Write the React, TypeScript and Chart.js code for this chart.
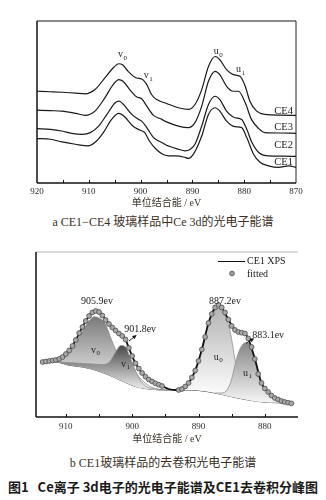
import React, { useEffect, useRef } from 'react';
import { Chart, registerables } from 'chart.js';

Chart.register(...registerables);

type Pt = [number, number];

// ---------- Panel a: Ce 3d spectra of CE1–CE4 (binding energy eV, intensity a.u.) ----------
const CE4: Pt[] = [[920,92.3],[917.5,91.8],[915.2,91.3],[912.5,90.5],[910.7,89.7],[908.8,94],[906.9,105.7],[905.3,115.7],[904.2,120],[903.5,119],[902.4,112.3],[900.8,105.7],[899.8,104.7],[898.8,99],[897.9,89],[896.9,84],[895,80],[892.7,75.7],[890.8,74],[889.5,79],[888.2,94],[886.9,117.3],[885.6,127.3],[884.7,124],[883.4,114],[882.1,109],[880.8,107.3],[879.8,97.3],[878.9,82.3],[877.6,72.3],[876,69],[873,68.3],[870,68]];
const CE3: Pt[] = [[920,73.3],[917.5,72.8],[915.2,72.3],[912.5,70],[910.7,68],[908.8,72.3],[906.9,85.7],[905.3,99],[904.2,104],[903.4,102.3],[902.1,94],[900.8,86.7],[899.8,84.7],[898.8,77.3],[897.5,68],[895.9,64],[895,61.5],[892.7,57.3],[890.8,55.7],[889.5,60.7],[888.2,77.3],[886.9,102.3],[885.6,112.3],[884.7,109],[883.4,97.3],[882.1,92.3],[881.1,92.3],[879.8,80.7],[878.6,64],[877.2,54.7],[876,50.7],[873,50.3],[870,50]];
const CE2: Pt[] = [[920,54.7],[917.4,54],[915.2,52.3],[913.3,50],[911.3,49],[909.7,50.7],[908.1,57.3],[906.5,69],[904.9,80.7],[904.1,82.3],[903.3,79],[901.7,69],[900.4,64],[899.8,62.3],[898.8,55.7],[897.5,45.7],[895.9,40.7],[895.1,38.3],[892.7,34],[891.4,32.3],[890.4,34],[889.5,39],[888.2,57.3],[886.9,79],[885.6,87.3],[884.7,84],[883.4,72.3],[881.8,65.7],[880.5,64],[879.5,54],[878.5,40.7],[877.2,30.7],[875.3,27.3],[872.5,27],[870,26.7]];
const CE1: Pt[] = [[920,44.7],[917.4,44],[915.2,41.3],[912.6,39],[910.1,37.3],[908.5,42.3],[907.2,50.7],[905.6,64],[904.2,70],[903.1,66.7],[901.5,57.3],[900.2,53.3],[899.2,50.7],[898.3,42.3],[897,34],[895.7,29],[894.6,27.3],[893.2,27.3],[891.4,25.7],[890.8,24.7],[889.8,29],[888.2,47.3],[886.9,69],[885.6,75.7],[884.7,72.3],[883.4,62.3],[881.8,56.7],[880.5,55.7],[879.5,45.7],[878.2,29],[876.9,20.7],[875.3,17.3],[873.4,15.7],[871.4,17.3],[870,15.7]];
const A_SERIES = [CE4, CE3, CE2, CE1];
const A_NAMES = ['CE4', 'CE3', 'CE2', 'CE1'];
const A_NAME_Y = [72, 56.5, 38, 21];
const A_TICKS = [920, 915, 910, 905, 900, 895, 890, 885, 880, 875, 870];
const A_TICK_LABELS = [920, 910, 900, 890, 880, 870];
const A_PEAKS = [
  { base: 'v', sub: '0', ev: 903.6, y: 129 },
  { base: 'v', sub: '1', ev: 898.6, y: 108 },
  { base: 'u', sub: '0', ev: 885.1, y: 132 },
  { base: 'u', sub: '1', ev: 880.8, y: 114 },
];

// ---------- Panel b: deconvolution of CE1 ----------
const ENVELOPE: Pt[] = [[913.5,55],[912,56.5],[910.5,60],[909.5,66.5],[908.5,77],[907.5,90],[906.5,101],[905.7,106],[905,105],[904.5,101.5],[903.5,93],[902.5,86.5],[901.5,81],[901,77.5],[900.5,69],[899.5,53.7],[898.5,44],[897.5,37.5],[896.5,33.7],[895.5,31],[894.5,28],[893.5,27],[892.5,28],[891.5,34],[890.5,46.5],[889.5,67.5],[888.5,94],[887.8,106],[887.1,112],[886.5,109.5],[885.5,97.5],[884.5,87],[883.5,84.3],[883,83.5],[882.5,78.5],[881.5,58],[880.5,34],[879.5,25],[878.5,19],[877.5,16],[876,13.7]];
const FITTED: Pt[] = [[913.5,55],[913,55.5],[912.5,56],[912,56.5],[911.5,57],[911,58],[910.5,60],[910,63],[909.5,66.5],[909,71],[908.5,77],[908,84],[907.5,90],[907,96],[906.5,101],[906,104.5],[905.5,106],[905,105],[904.5,101.5],[904,97],[903.5,93],[903,89.5],[902.5,86.5],[902,83.5],[901.5,81],[901,77.5],[900.5,69],[900,61],[899.5,53.7],[899,48.5],[898.5,44],[898,40.3],[897.5,37.5],[897,35.5],[896.5,33.7],[896,32.3],[895.5,31],
  [893,27],[892.5,28],[892,30.5],[891.5,34],[891,39.5],[890.5,46.5],[890,56],[889.5,67.5],[889,80],[888.5,94],[888,103],[887.5,109.5],[887,112],[886.5,109.5],[886,104.5],[885.5,97.5],[885,91],[884.5,87],[884,85],[883.5,84.3],[883,83.5],[882.5,78.5],[882,70],[881.5,58],[881,43],[880.5,34],[880,28.5],[879.5,25],[879,21.5],[878.5,19],[878,17.5],[877.5,16],[877,15],[876.5,14.3],[876,13.7]];
const BACKGROUND: Pt[] = [[913.5,56],[911,54.5],[909.7,52],[907.5,50],[905.6,47],[903.5,42],[901.5,36],[899.5,30.5],[897.5,28],[895,27],[892,27],[890,26.5],[887.5,24],[884.8,20],[882.5,17],[880.3,15],[878,14.2],[876.2,13.7]];
const V0: Pt[] = [[913.5,56],[911,57.5],[909.7,62],[908.5,73],[907.5,86],[906.5,96],[905.7,100.3],[905,99],[904.1,93.7],[903.1,77],[902.1,62],[901.1,55.3],[900,48.7],[899,40.3],[898,33.7],[897,29.5],[896,27.8]];
const V1: Pt[] = [[913.5,56],[911,55],[908.5,54],[906,53],[904.5,52.5],[903.5,54.5],[903,59],[902.4,66],[901.7,71.5],[901.1,70.5],[900.4,61],[899.6,48],[898.9,38],[898,31],[897,28.5],[896,27.5]];
const U0: Pt[] = [[893.5,27],[892.5,28.5],[891.5,33],[890.5,44.5],[889.5,66],[888.5,92],[887.8,104],[887.2,108.7],[886.6,107],[886.2,103.7],[885.4,90.3],[884.9,73.7],[884.4,53.7],[883.6,37],[882.6,27],[881.6,20.3],[880.5,16.5],[879,15]];
const U1: Pt[] = [[887.5,24],[886.5,24],[885.6,28],[885,38],[884.6,49],[884.1,62],[883.4,72],[882.7,74.5],[882.1,70.3],[881.6,60.3],[880.9,40.3],[880.3,30.5],[879.8,26],[878.8,20],[877.8,16.5],[876.3,14]];
const B_TICKS = [910, 905, 900, 895, 890, 885, 880];
const B_TICK_LABELS = [910, 900, 890, 880];
const B_PEAK_VALUES = [
  { text: '905.9ev', ev: 905.3, y: 116 },
  { text: '901.8ev', ev: 898.8, y: 88 },
  { text: '887.2ev', ev: 886.0, y: 116 },
  { text: '883.1ev', ev: 879.5, y: 82 },
];
const B_ARROWS = [
  { from: [900.5, 76], to: [899.5, 81] },
  { from: [882.8, 73.7], to: [881.8, 78] },
];
const B_COMPONENTS = [
  { base: 'v', sub: '0', ev: 905.6, y: 67 },
  { base: 'v', sub: '1', ev: 901.1, y: 53 },
  { base: 'u', sub: '0', ev: 887.1, y: 60 },
  { base: 'u', sub: '1', ev: 882.7, y: 44 },
];

const SERIF = '"Liberation Serif", "Noto Sans CJK SC", serif';
const toXY = (d: Pt[]) => d.map(([x, y]) => ({ x, y }));

function subLabel(ctx: CanvasRenderingContext2D, x: number, y: number, base: string, sub: string, size: number) {
  ctx.font = `${size}px ${SERIF}`;
  ctx.textAlign = 'right';
  ctx.textBaseline = 'middle';
  ctx.fillText(base, x + 1, y);
  ctx.font = `${Math.round(size * 0.7)}px ${SERIF}`;
  ctx.textAlign = 'left';
  ctx.fillText(sub, x + 1.5, y + size * 0.3);
}

function frameAndTicks(chart: any, sides: { side: string; color: string; width: number }[]) {
  const { ctx, chartArea: a } = chart;
  const xs = chart.scales.x;
  ctx.save();
  sides.forEach((s) => {
    ctx.beginPath();
    ctx.strokeStyle = s.color;
    ctx.lineWidth = s.width;
    if (s.side === 'top') { ctx.moveTo(a.left, a.top); ctx.lineTo(a.right, a.top); }
    if (s.side === 'bottom') { ctx.moveTo(a.left, a.bottom); ctx.lineTo(a.right, a.bottom); }
    if (s.side === 'left') { ctx.moveTo(a.left, a.top); ctx.lineTo(a.left, a.bottom); }
    if (s.side === 'right') { ctx.moveTo(a.right, a.top); ctx.lineTo(a.right, a.bottom); }
    ctx.stroke();
  });
  ctx.strokeStyle = '#111';
  ctx.lineWidth = 1;
  xs.ticks.forEach((t: any) => {
    if (t.value <= xs.min || t.value >= xs.max) return;
    const px = Math.round(xs.getPixelForValue(t.value)) + 0.5;
    ctx.beginPath();
    ctx.moveTo(px, a.bottom);
    ctx.lineTo(px, a.bottom - 3);
    ctx.stroke();
  });
  ctx.restore();
}

function xAxis(min: number, max: number, tickVals: number[], labels: number[], height: number, tickPad: number, titlePad: number) {
  return {
    type: 'linear' as const,
    reverse: true,
    min,
    max,
    border: { display: false },
    grid: { display: false, drawTicks: false },
    afterBuildTicks: (s: any) => { s.ticks = tickVals.map((v) => ({ value: v })); },
    ticks: {
      autoSkip: false,
      maxRotation: 0,
      padding: tickPad,
      color: '#2a2a2a',
      font: { family: SERIF, size: 9 },
      callback: (v: any) => (labels.includes(Number(v)) ? String(v) : ''),
    },
    title: {
      display: true,
      text: '单位结合能 / eV',
      color: '#3a3026',
      font: { family: SERIF, size: 10 },
      padding: { top: 0, bottom: titlePad },
    },
    afterFit: (s: any) => { s.height = height; },
  };
}

function grad(topVal: number, botVal: number, c1: string, c2: string) {
  return (c: any) => {
    const chart = c.chart;
    if (!chart.chartArea || !chart.scales.y) return 'rgba(0,0,0,0)';
    const y = chart.scales.y;
    const g = chart.ctx.createLinearGradient(0, y.getPixelForValue(topVal), 0, y.getPixelForValue(botVal));
    g.addColorStop(0, c1);
    g.addColorStop(1, c2);
    return g;
  };
}

export default function App() {
  const refA = useRef<HTMLCanvasElement>(null);
  const refB = useRef<HTMLCanvasElement>(null);

  useEffect(() => {
    const decorA = {
      id: 'decorA',
      afterDraw(chart: any) {
        frameAndTicks(chart, [
          { side: 'top', color: '#8a8a8a', width: 2 },
          { side: 'left', color: '#111', width: 1.5 },
          { side: 'right', color: '#222', width: 1 },
          { side: 'bottom', color: '#111', width: 1.5 },
        ]);
        const { ctx } = chart;
        const xs = chart.scales.x, ys = chart.scales.y;
        ctx.save();
        ctx.fillStyle = '#1a1a1a';
        A_PEAKS.forEach((p) => subLabel(ctx, xs.getPixelForValue(p.ev), ys.getPixelForValue(p.y), p.base, p.sub, 10));
        ctx.font = `10.5px ${SERIF}`;
        ctx.textAlign = 'right';
        ctx.textBaseline = 'middle';
        A_NAMES.forEach((n, i) => ctx.fillText(n, xs.getPixelForValue(870.6), ys.getPixelForValue(A_NAME_Y[i])));
        ctx.restore();
      },
    };

    const chartA = new Chart(refA.current!, {
      type: 'line',
      data: {
        datasets: A_SERIES.map((s, i) => ({
          label: A_NAMES[i],
          data: toXY(s),
          borderColor: '#1a1a1a',
          borderWidth: 1.2,
          pointRadius: 0,
          fill: false,
          cubicInterpolationMode: 'monotone' as const,
        })),
      },
      options: {
        responsive: false,
        animation: false,
        events: [],
        layout: { padding: { left: 37, right: 30, top: 21, bottom: 0 } },
        plugins: { legend: { display: false }, tooltip: { enabled: false } },
        scales: {
          x: xAxis(870, 920, A_TICKS, A_TICK_LABELS, 27, 3, 1) as any,
          y: { display: false, min: 0, max: 163 },
        },
      },
      plugins: [decorA],
    } as any);

    const decorB = {
      id: 'decorB',
      afterDraw(chart: any) {
        frameAndTicks(chart, [
          { side: 'top', color: '#b5b5b5', width: 1 },
          { side: 'left', color: '#111', width: 1.5 },
          { side: 'bottom', color: '#111', width: 1.5 },
        ]);
        const { ctx, chartArea: a } = chart;
        const xs = chart.scales.x, ys = chart.scales.y;
        ctx.save();
        ctx.fillStyle = '#1a1a1a';
        ctx.font = `10px ${SERIF}`;
        ctx.textAlign = 'center';
        ctx.textBaseline = 'middle';
        B_PEAK_VALUES.forEach((p) => ctx.fillText(p.text, xs.getPixelForValue(p.ev), ys.getPixelForValue(p.y)));
        ctx.strokeStyle = '#111';
        ctx.lineWidth = 0.9;
        B_ARROWS.forEach((ar) => {
          const x1 = xs.getPixelForValue(ar.from[0]), y1 = ys.getPixelForValue(ar.from[1]);
          const x2 = xs.getPixelForValue(ar.to[0]), y2 = ys.getPixelForValue(ar.to[1]);
          ctx.beginPath(); ctx.moveTo(x1, y1); ctx.lineTo(x2, y2); ctx.stroke();
          const ang = Math.atan2(y2 - y1, x2 - x1);
          ctx.beginPath();
          ctx.moveTo(x2 + Math.cos(ang) * 1.5, y2 + Math.sin(ang) * 1.5);
          ctx.lineTo(x2 + Math.cos(ang + 2.5) * 3.5, y2 + Math.sin(ang + 2.5) * 3.5);
          ctx.lineTo(x2 + Math.cos(ang - 2.5) * 3.5, y2 + Math.sin(ang - 2.5) * 3.5);
          ctx.closePath();
          ctx.fill();
        });
        ctx.fillStyle = '#222';
        B_COMPONENTS.forEach((p) => subLabel(ctx, xs.getPixelForValue(p.ev), ys.getPixelForValue(p.y), p.base, p.sub, 10));
        // legend
        ctx.strokeStyle = '#111';
        ctx.lineWidth = 1;
        ctx.beginPath();
        ctx.moveTo(a.right - 80, a.top + 9.5);
        ctx.lineTo(a.right - 53, a.top + 9.5);
        ctx.stroke();
        ctx.beginPath();
        ctx.arc(a.right - 66, a.top + 21.5, 2.4, 0, Math.PI * 2);
        ctx.fillStyle = '#9a9a9a';
        ctx.fill();
        ctx.strokeStyle = '#555';
        ctx.lineWidth = 0.8;
        ctx.stroke();
        ctx.fillStyle = '#1a1a1a';
        ctx.font = `10px ${SERIF}`;
        ctx.textAlign = 'left';
        ctx.textBaseline = 'middle';
        ctx.fillText('CE1 XPS', a.right - 51, a.top + 9.5);
        ctx.fillText('fitted', a.right - 51, a.top + 22);
        ctx.restore();
      },
    };

    const comp = (label: string, d: Pt[], g: any) => ({
      label,
      data: toXY(d),
      borderColor: '#8f8f8f',
      borderWidth: 0.8,
      pointRadius: 0,
      fill: 6,
      backgroundColor: g,
      cubicInterpolationMode: 'monotone' as const,
    });

    const chartB = new Chart(refB.current!, {
      type: 'line',
      data: {
        datasets: [
          {
            label: 'fitted',
            data: toXY(FITTED),
            showLine: false,
            pointRadius: 2.4,
            pointBackgroundColor: '#a8a8a8',
            pointBorderColor: '#4a4a4a',
            pointBorderWidth: 0.8,
          },
          {
            label: 'CE1 XPS',
            data: toXY(ENVELOPE),
            borderColor: '#111',
            borderWidth: 1.8,
            pointRadius: 0,
            fill: false,
            cubicInterpolationMode: 'monotone' as const,
          },
          comp('v1', V1, grad(72, 28, '#454545', '#ececec')),
          comp('u1', U1, grad(75, 14, '#858585', '#f7f7f7')),
          comp('v0', V0, grad(102, 30, '#777777', '#f2f2f2')),
          comp('u0', U0, grad(110, 20, '#b4b4b4', '#fefefe')),
          {
            label: 'background',
            data: toXY(BACKGROUND),
            borderColor: '#444',
            borderWidth: 1,
            pointRadius: 0,
            fill: false,
            cubicInterpolationMode: 'monotone' as const,
          },
        ],
      },
      options: {
        responsive: false,
        animation: false,
        events: [],
        layout: { padding: { left: 36, right: 28, top: 12, bottom: 0 } },
        plugins: { legend: { display: false }, tooltip: { enabled: false } },
        scales: {
          x: xAxis(875, 914.5, B_TICKS, B_TICK_LABELS, 33, 4, 5) as any,
          y: { display: false, min: 0, max: 165 },
        },
      },
      plugins: [decorB],
    } as any);

    return () => {
      chartA.destroy();
      chartB.destroy();
    };
  }, []);

  const capStyle: React.CSSProperties = {
    position: 'absolute',
    left: 0,
    width: 326,
    textAlign: 'center',
    fontFamily: SERIF,
    fontSize: 12,
    lineHeight: '16px',
    color: '#3a3026',
    whiteSpace: 'pre',
  };

  return (
    <div style={{ position: 'absolute', left: 0, top: 0, width: 326, height: 500, background: '#fff', overflow: 'hidden' }}>
      <canvas ref={refA} width={326} height={210} style={{ position: 'absolute', left: 0, top: 0, width: 326, height: 210 }} />
      <div style={{ ...capStyle, top: 214 }}>a CE1−CE4 玻璃样品中Ce 3d的光电子能谱</div>
      <canvas ref={refB} width={326} height={210} style={{ position: 'absolute', left: 0, top: 240, width: 326, height: 210 }} />
      <div style={{ ...capStyle, top: 455 }}>b CE1玻璃样品的去卷积光电子能谱</div>
      <div
        style={{
          ...capStyle,
          top: 479,
          fontFamily: '"Noto Sans CJK SC", "Noto Sans", sans-serif',
          fontWeight: 'bold',
          fontSize: 13,
          color: '#1a1a1a',
        }}
      >
        {'图1   Ce离子 3d电子的光电子能谱及CE1去卷积分峰图'}
      </div>
    </div>
  );
}
